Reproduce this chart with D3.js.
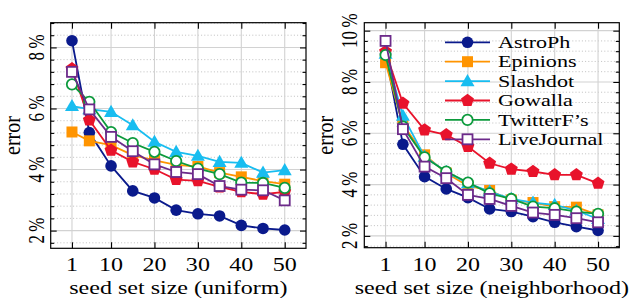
<!DOCTYPE html>
<html>
<head>
<meta charset="utf-8">
<script src="https://cdn.jsdelivr.net/npm/d3@7"></script>
<style>
  body { margin: 0; background: #fff; }
  text { font-family: "Liberation Serif", serif; fill: #000; }
</style>
</head>
<body>
<svg id="chart" width="631" height="299"></svg>
<script>
// seed set sizes on the x axis
var seedSizes = [1, 5, 10, 15, 20, 25, 30, 35, 40, 45, 50];
var xTicks = [1, 10, 20, 30, 40, 50];
var seriesNames = ["AstroPh", "Epinions", "Slashdot", "Gowalla", "TwitterF\u2019s", "LiveJournal"];

// error in % (uniform)
var uniformAstroPh     = [8.22, 5.21, 4.12, 3.30, 3.07, 2.67, 2.55, 2.48, 2.17, 2.07, 2.02];
var uniformEpinions    = [5.23, 4.94, 4.80, 4.47, 4.30, 4.15, 4.10, 3.90, 3.76, 3.62, 3.52];
var uniformSlashdot    = [6.08, 5.98, 5.89, 5.45, 4.91, 4.58, 4.45, 4.25, 4.22, 3.90, 3.98];
var uniformGowalla     = [7.30, 5.62, 4.63, 4.25, 4.01, 3.67, 3.63, 3.43, 3.27, 3.19, 3.27];
var uniformTwitter     = [6.79, 6.22, 5.23, 4.87, 4.58, 4.28, 4.03, 3.85, 3.57, 3.56, 3.40];
var uniformLiveJournal = [7.20, 5.97, 5.07, 4.60, 4.17, 3.92, 3.85, 3.46, 3.34, 3.32, 2.99];

// error in % (neighborhood)
var neighAstroPh     = [9.10, 5.57, 4.31, 3.83, 3.49, 3.05, 2.95, 2.75, 2.53, 2.36, 2.21];
var neighEpinions    = [8.75, 6.33, 5.16, 4.45, 3.95, 3.77, 3.40, 3.30, 3.14, 3.12, 2.82];
var neighSlashdot    = [9.10, 6.68, 5.09, 4.50, 4.05, 3.73, 3.44, 3.30, 3.21, 2.99, 2.66];
var neighGowalla     = [9.18, 7.17, 6.13, 5.94, 5.48, 4.83, 4.60, 4.51, 4.38, 4.38, 4.05];
var neighTwitter     = [9.05, 6.26, 5.06, 4.51, 4.08, 3.66, 3.44, 3.14, 3.08, 2.95, 2.86];
var neighLiveJournal = [9.60, 6.16, 4.70, 4.25, 3.60, 3.44, 3.17, 2.91, 2.82, 2.69, 2.53];

var colors = ["#0a1a8c", "#ff9400", "#18bdf0", "#e8132b", "#0c9a3c", "#6c2a8a"];
var markers = ["circle", "square", "triangle", "pentagon", "ocircle", "osquare"];

var svg = d3.select("#chart");
var sx = 1.3; // glyphs in the picture are wider than tall

// pentagon path, centered
function pentagon(r) {
  var p = [];
  for (var i = 0; i < 5; i++) {
    var a = -Math.PI / 2 + i * 2 * Math.PI / 5;
    p.push([r * Math.cos(a), r * Math.sin(a)]);
  }
  return "M" + p.join("L") + "Z";
}

function drawMarker(g, kind, color, cx, cy) {
  if (kind == "circle") {
    g.append("circle").attr("cx", cx).attr("cy", cy).attr("r", 5.8).attr("fill", color);
  } else if (kind == "ocircle") {
    g.append("circle").attr("cx", cx).attr("cy", cy).attr("r", 5.2)
      .attr("fill", "#fff").attr("stroke", color).attr("stroke-width", 1.8);
  } else if (kind == "square") {
    g.append("rect").attr("x", cx - 5.5).attr("y", cy - 5.5).attr("width", 11).attr("height", 11).attr("fill", color);
  } else if (kind == "osquare") {
    g.append("rect").attr("x", cx - 5).attr("y", cy - 5).attr("width", 10).attr("height", 10)
      .attr("fill", "#fff").attr("stroke", color).attr("stroke-width", 1.8);
  } else if (kind == "triangle") {
    g.append("path").attr("transform", "translate(" + cx + "," + (cy + 1) + ")")
      .attr("d", d3.symbol().type(d3.symbolTriangle).size(85)).attr("fill", color);
  } else {
    g.append("path").attr("transform", "translate(" + cx + "," + cy + ")")
      .attr("d", pentagon(6.8)).attr("fill", color);
  }
}

function label(g, txt, x, y, size, rot, s) {
  g.append("text")
    .attr("transform", "translate(" + x + "," + y + ") scale(" + (s || sx) + ",1)" + (rot ? " rotate(-90)" : ""))
    .attr("text-anchor", "middle")
    .style("font-size", size + "px")
    .text(txt);
}

function panel(opt) {
  var x = d3.scaleLinear().domain([-3.9, 54.9]).range([opt.left, opt.right]);
  var y = d3.scaleLinear().domain(opt.yDomain).range([opt.bottom, opt.top]);
  var g = svg.append("g");

  // minor values every 0.4 %
  var minor = [];
  for (var k = Math.ceil(opt.yDomain[0] / 0.4); k * 0.4 <= opt.yDomain[1]; k++) {
    var v = Math.round(k * 4) / 10;
    if (Math.abs(v / 2 - Math.round(v / 2)) > 1e-6) minor.push(v);
  }

  // grid
  g.selectAll(".minor").data(minor).enter().append("line")
    .attr("x1", opt.left).attr("x2", opt.right)
    .attr("y1", function(d) { return y(d); }).attr("y2", function(d) { return y(d); })
    .attr("stroke", "#b0b0b0").attr("stroke-width", 0.8).attr("stroke-dasharray", "1,2.2");
  g.selectAll(".hgrid").data(opt.yTicks).enter().append("line")
    .attr("x1", opt.left).attr("x2", opt.right)
    .attr("y1", function(d) { return y(d); }).attr("y2", function(d) { return y(d); })
    .attr("stroke", "#d2d2d2").attr("stroke-width", 1.1);
  g.selectAll(".vgrid").data(xTicks).enter().append("line")
    .attr("y1", opt.top).attr("y2", opt.bottom)
    .attr("x1", function(d) { return x(d); }).attr("x2", function(d) { return x(d); })
    .attr("stroke", "#d2d2d2").attr("stroke-width", 1.1);

  // inward ticks on all four sides
  var axes = [
    [d3.axisLeft(y).tickValues(opt.yTicks).tickSize(-6), opt.left, 0],
    [d3.axisRight(y).tickValues(opt.yTicks).tickSize(-6), opt.right, 0],
    [d3.axisLeft(y).tickValues(minor).tickSize(-3.5), opt.left, 0],
    [d3.axisRight(y).tickValues(minor).tickSize(-3.5), opt.right, 0],
    [d3.axisBottom(x).tickValues(xTicks).tickSize(-6), 0, opt.bottom],
    [d3.axisTop(x).tickValues(xTicks).tickSize(-6), 0, opt.top]
  ];
  axes.forEach(function(a) {
    var ag = g.append("g").attr("transform", "translate(" + a[1] + "," + a[2] + ")")
      .call(a[0].tickFormat(""));
    ag.select(".domain").remove();
    ag.selectAll("line").attr("stroke", "#000").attr("stroke-width", 1.1);
  });

  g.append("rect").attr("x", opt.left).attr("y", opt.top)
    .attr("width", opt.right - opt.left).attr("height", opt.bottom - opt.top)
    .attr("fill", "none").attr("stroke", "#000").attr("stroke-width", 1.2);

  // series
  var line = d3.line()
    .x(function(d, i) { return x(seedSizes[i]); })
    .y(function(d) { return y(d); });
  opt.series.forEach(function(s, si) {
    g.append("path").attr("d", line(s)).attr("fill", "none")
      .attr("stroke", colors[si]).attr("stroke-width", 1.8);
    s.forEach(function(v, i) {
      drawMarker(g, markers[si], colors[si], x(seedSizes[i]), y(v));
    });
  });

  // labels
  xTicks.forEach(function(t) { label(g, t, x(t), 271, 18.5, false); });
  opt.yTicks.forEach(function(t) { label(g, t + "\u2009%", opt.left - 7, y(t), 17, true); });
  label(g, "error", opt.left - 31, (opt.top + opt.bottom) / 2, 20, true, 1.15);
  label(g, opt.xLabel, (opt.left + opt.right) / 2, 294, 18.5, false);
  return g;
}

panel({
  left: 50.7, right: 306, top: 22.7, bottom: 248.3,
  yDomain: [1.42, 8.81], yTicks: [2, 4, 6, 8],
  xLabel: "seed set size (uniform)",
  series: [uniformAstroPh, uniformEpinions, uniformSlashdot, uniformGowalla, uniformTwitter, uniformLiveJournal]
});

var right = panel({
  left: 364.3, right: 619.3, top: 22.7, bottom: 247.7,
  yDomain: [1.54, 10.31], yTicks: [2, 4, 6, 8, 10],
  xLabel: "seed set size (neighborhood)",
  series: [neighAstroPh, neighEpinions, neighSlashdot, neighGowalla, neighTwitter, neighLiveJournal]
});

// legend
var legend = svg.append("g");
seriesNames.forEach(function(n, i) {
  var cy = 42.3 + i * 19.4;
  legend.append("line").attr("x1", 445).attr("x2", 490).attr("y1", cy).attr("y2", cy)
    .attr("stroke", colors[i]).attr("stroke-width", 1.8);
  drawMarker(legend, markers[i], colors[i], 467.5, cy);
  legend.append("text")
    .attr("transform", "translate(498," + (cy + 5.6) + ") scale(" + sx + ",1)")
    .style("font-size", "17px")
    .text(n);
});
</script>
</body>
</html>
